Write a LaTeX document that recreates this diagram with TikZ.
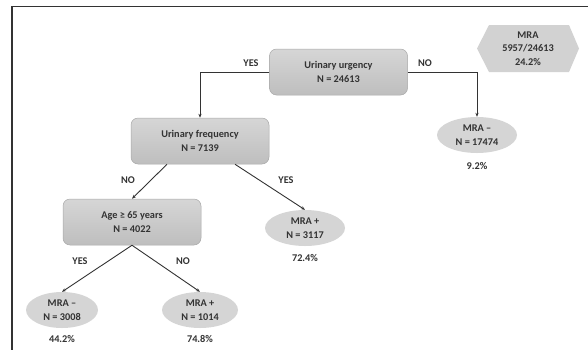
\documentclass[tikz,border=0pt]{standalone}
\usepackage{fontspec}
\setmainfont{Carlito}[BoldFont={Carlito Bold}]
\usetikzlibrary{shapes.geometric,arrows.meta}
\definecolor{txt}{HTML}{333333}
\definecolor{frame}{HTML}{333333}
\definecolor{boxtop}{HTML}{D6D6D6}
\definecolor{boxbot}{HTML}{BEBEBE}
\definecolor{boxline}{HTML}{A8A8A8}
\definecolor{ellfill}{HTML}{D5D5D5}
\definecolor{hexfill}{HTML}{D2D2D2}
\tikzset{
  every node/.style={text=txt, font=\fontsize{10.3}{13.5}\selectfont\bfseries, align=center, inner sep=0pt},
  decbox/.style={draw=boxline, line width=0.5pt, rounded corners=7pt, top color=boxtop, bottom color=boxbot,
                 minimum width=138pt, minimum height=46pt},
  leaf/.style={ellipse, fill=ellfill, minimum width=78pt, minimum height=36pt},
  lbl/.style={},
  arr/.style={draw=frame, line width=0.9pt, -{Stealth[length=4pt,width=3.2pt]}}
}
\begin{document}
\begin{tikzpicture}[x=1pt,y=-1pt]
\useasboundingbox (0,0) rectangle (588,349);
% frame
\draw[frame, line width=1.5pt] (588,6.5) -- (12,6.5) -- (12,349.5);
% hexagon summary
\fill[hexfill] (477,48.5) -- (489,25) -- (569,25) -- (579,48.5) -- (569,72) -- (489,72) -- cycle;
\node (mra) at (528,48.5) {MRA\\5957/24613\\24.2\%};
% decision boxes
\node[decbox] (uu) at (338.5,72) {Urinary urgency\\N = 24613};
\node[decbox] (uf) at (200,141) {Urinary frequency\\N = 7139};
\node[decbox] (age) at (132,222) {Age ≥ 65 years\\N = 4022};
% leaves
\node[leaf, minimum width=80pt] (m1) at (477,135) {MRA –\\N = 17474};
\node[leaf, minimum width=80pt] (p1) at (305,228) {MRA +\\N = 3117};
\node[leaf, minimum width=72pt] (m2) at (62,310) {MRA –\\N = 3008};
\node[leaf, minimum width=76pt] (p2) at (200,310) {MRA +\\N = 1014};
% percentages
\node (pm1) at (477,166) {9.2\%};
\node (pp1) at (305,258) {72.4\%};
\node (pm2) at (62,339) {44.2\%};
\node (pp2) at (200,339) {74.8\%};
% connectors
\draw[arr] (uu.west) -| (uf.north);
\draw[arr] (uu.east) -| (m1.north);
\draw[arr] ([xshift=-33pt]uf.south) -- (age.north);
\draw[arr] ([xshift=35pt]uf.south) -- (p1.north);
\draw[arr] (age.south) -- (m2.north);
\draw[arr] (age.south) -- (p2.north);
% branch labels
\node[lbl] (y1) at (251,63) {YES};
\node[lbl] (n1) at (425,63) {NO};
\node[lbl] (n2) at (128,180) {NO};
\node[lbl] (y2) at (286,180) {YES};
\node[lbl] (y3) at (80,261) {YES};
\node[lbl] (n3) at (183,261) {NO};
\end{tikzpicture}
\end{document}
